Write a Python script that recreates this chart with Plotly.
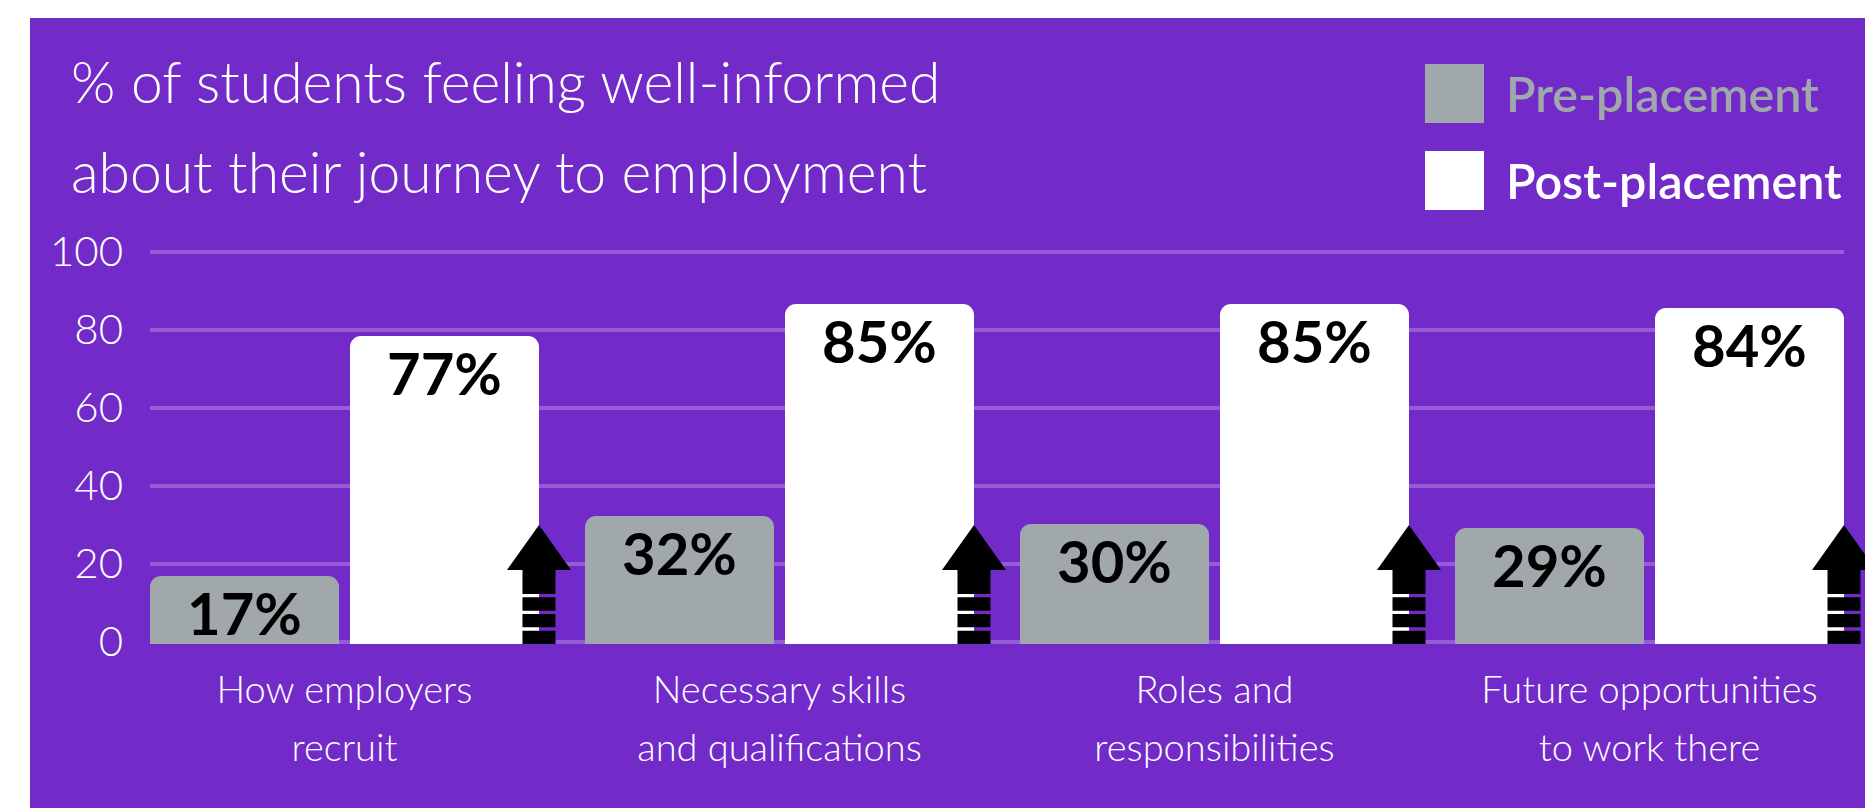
import plotly.graph_objects as go

categories = ["How employers<br>recruit", "Necessary skills<br>and qualifications",
              "Roles and<br>responsibilities", "Future opportunities<br>to work there"]
pre_values = [17, 32, 30, 29]
post_values = [77, 85, 85, 84]
pre_labels = ["17%", "32%", "30%", "29%"]
post_labels = ["77%", "85%", "85%", "84%"]
y_ticks = [0, 20, 40, 60, 80, 100]
title_lines = ["% of students feeling well-informed", "about their journey to employment"]
series_names = ["Pre-placement", "Post-placement"]

W, H = 1865, 808
PURPLE = "#722BC9"
GRID = "#945DD6"
GREY = "#A1A8AB"
LIGHT = "Lato Light, Lato, sans-serif"
BOLD = "Lato, sans-serif"

PL, PR, PT, PB = 150, 1844, 240, 644
BARGAP, GROUPGAP = 0.0805, 0.055
edge = (1 - BARGAP) / 2 * (1 - GROUPGAP / 2)
x_range = [-edge, len(categories) - 1 + edge]


def fx(px):
    return (px - PL) / (PR - PL)


def fy(py):
    return (PB - py) / (PB - PT)


fig = go.Figure()
fig.add_trace(go.Scatter(x=categories, y=[None] * len(categories), yaxis="y", mode="lines",
                         showlegend=False, hoverinfo="skip"))
for name, vals, col in [(series_names[0], pre_values, GREY),
                        (series_names[1], post_values, "#FFFFFF")]:
    fig.add_trace(go.Bar(x=categories, y=vals, name=name, yaxis="y2",
                         marker=dict(color=col, line=dict(width=0), cornerradius=11)))

shapes = [dict(type="rect", xref="paper", yref="paper", x0=fx(30), x1=fx(W + 2), y0=fy(H + 2), y1=fy(18),
               fillcolor=PURPLE, line=dict(width=0), layer="below"),
          dict(type="rect", xref="paper", yref="paper", x0=fx(1425), x1=fx(1484), y0=fy(123), y1=fy(64),
               fillcolor=GREY, line=dict(width=0)),
          dict(type="rect", xref="paper", yref="paper", x0=fx(1425), x1=fx(1484), y0=fy(210), y1=fy(151),
               fillcolor="#FFFFFF", line=dict(width=0))]

arrow_path = ("M0 119 L32 74 L16.5 74 L16.5 50 L-16.5 50 L-16.5 74 L-32 74 Z "
              "M-16.5 46.7 L16.5 46.7 L16.5 33.3 L-16.5 33.3 Z "
              "M-16.5 30 L16.5 30 L16.5 16.7 L-16.5 16.7 Z "
              "M-16.5 13.3 L16.5 13.3 L16.5 0 L-16.5 0 Z")
for i in range(len(categories)):
    shapes.append(dict(type="path", path=arrow_path, xref="paper", yref="paper",
                       xsizemode="pixel", ysizemode="pixel",
                       xanchor=(i + edge - x_range[0]) / (x_range[1] - x_range[0]), yanchor=0,
                       fillcolor="#000000", line=dict(width=0), layer="above"))

annotations = [
    dict(text=series_names[0], xref="paper", yref="paper", x=fx(1504), y=fy(92.5), xanchor="left", yanchor="middle",
         showarrow=False, font=dict(family=BOLD, size=48.5, color=GREY, weight=600)),
    dict(text=series_names[1], xref="paper", yref="paper", x=fx(1504), y=fy(179.5), xanchor="left", yanchor="middle",
         showarrow=False, font=dict(family=BOLD, size=48.5, color="#FFFFFF", weight=600)),
]
for vals, labs, shift in [(pre_values, pre_labels, -100), (post_values, post_labels, 100)]:
    for c, v, t in zip(categories, vals, labs):
        annotations.append(dict(text=t, xref="x", yref="y2", x=c, y=v, xshift=shift, yshift=-36,
                                xanchor="center", yanchor="middle", showarrow=False,
                                font=dict(family=BOLD, size=58, color="#000000", weight=700)))

span = '<span style="font-size:{}px">{}</span>'
tick_text = ["<br>".join(span.format(38, p) for p in c.split("<br>")) for c in categories]
title_text = "<br>".join(span.format(57, t) for t in title_lines)

fig.update_layout(
    width=W, height=H, autosize=False,
    margin=dict(l=PL, r=W - PR, t=PT, b=H - PB, pad=0),
    paper_bgcolor="#FFFFFF", plot_bgcolor="rgba(0,0,0,0)",
    barmode="group", bargap=BARGAP, bargroupgap=GROUPGAP,
    showlegend=False,
    title=dict(text=title_text, x=71 / W, xanchor="left", xref="container",
               y=1 - 103 / H, yanchor="middle",
               font=dict(family=LIGHT, size=69, color="#FFFFFF", weight=300)),
    xaxis=dict(type="category", range=x_range, categoryorder="array", categoryarray=categories,
               tickmode="array", tickvals=categories, ticktext=tick_text, showgrid=False, zeroline=False,
               showline=False, ticks="", ticklabelstandoff=13,
               tickfont=dict(family=LIGHT, size=44.6, color="#FFFFFF", weight=300)),
    yaxis=dict(range=[-0.615, 102.97], tickmode="array", tickvals=y_ticks, showgrid=True,
               gridcolor=GRID, gridwidth=4, zeroline=False, showline=False, ticks="",
               ticklabelstandoff=26,
               tickfont=dict(family=LIGHT, size=42, color="#FFFFFF", weight=300)),
    yaxis2=dict(range=[0, 101], overlaying="y", side="left", visible=False, showgrid=False, zeroline=False),
    shapes=shapes, annotations=annotations,
)

fig.write_html("out.html", post_script="document.body.style.margin='0';", config=dict(displayModeBar=False))
